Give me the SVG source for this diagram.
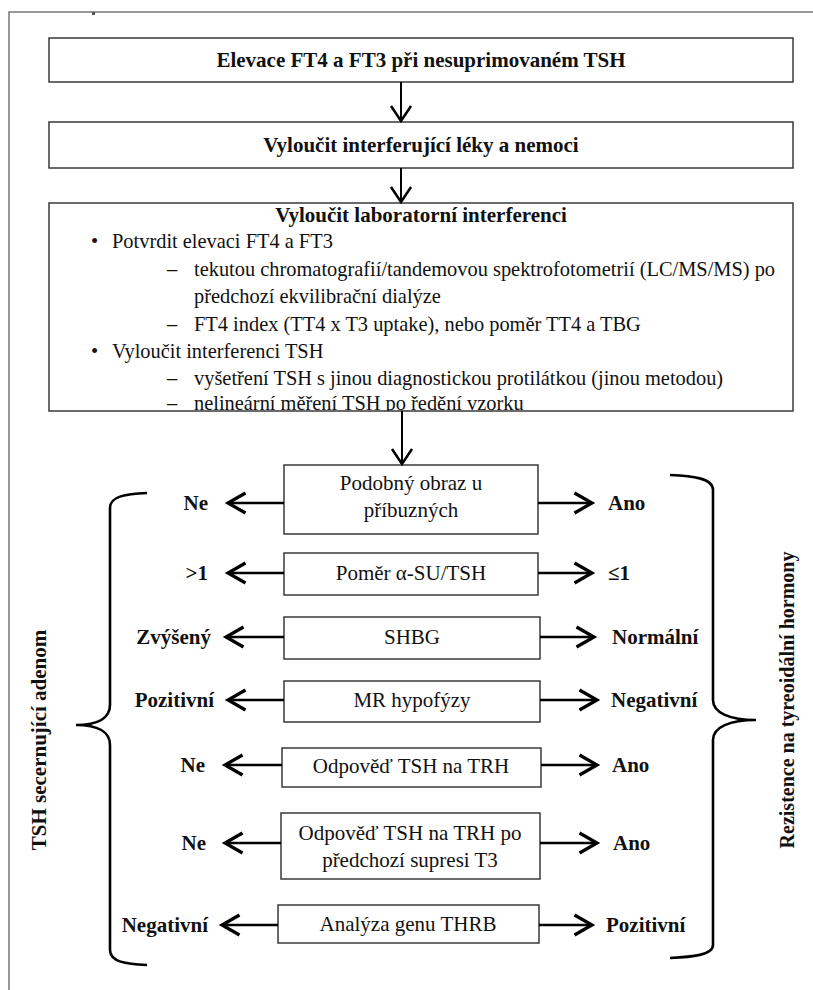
<svg xmlns="http://www.w3.org/2000/svg" width="813" height="990" viewBox="0 0 813 990">
<style>
.box{fill:#fff;stroke:#3a3a3a;stroke-width:1.5}
.t{font-family:"Liberation Serif","Times New Roman",serif;font-size:21px;fill:#111}
.b{font-weight:bold}
.l{font-family:"Liberation Serif","Times New Roman",serif;font-size:20.4px;fill:#111}
.c{text-anchor:middle}
.e{text-anchor:end}
.arr{stroke:#000;stroke-width:2.6;fill:none;marker-end:url(#ah)}
.varr{stroke:#000;stroke-width:2;fill:none;marker-end:url(#vh)}
.brace{stroke:#000;stroke-width:2.6;fill:none}
</style>
<defs>
<marker id="ah" markerUnits="userSpaceOnUse" markerWidth="30" markerHeight="30" viewBox="-16 -12 20 24" refX="0" refY="0" orient="auto" overflow="visible">
<path d="M-14,-8 L0,0 L-14,8" fill="none" stroke="#000" stroke-width="2.6" stroke-linejoin="miter"/>
</marker>
<marker id="vh" markerUnits="userSpaceOnUse" markerWidth="30" markerHeight="30" viewBox="-16 -12 20 24" refX="0" refY="0" orient="auto" overflow="visible">
<path d="M-12,-8 L0,0 L-12,8" fill="none" stroke="#000" stroke-width="2"/>
</marker>
<clipPath id="clip3"><rect x="49" y="203" width="744" height="208"/></clipPath>
</defs>
<rect width="813" height="990" fill="#fff"/>
<g id="frame">
<path d="M9,990 L9,12 L813,12" fill="none" stroke="#777" stroke-width="1.5"/>
<rect x="92" y="12" width="3" height="3" fill="#555"/>
</g>
<g id="n1">
<rect class="box" x="49" y="38" width="744" height="44"/>
<text class="t b c" x="421" y="67">Elevace FT4 a FT3 při nesuprimovaném TSH</text>
</g>
<g id="n2">
<rect class="box" x="49" y="122" width="744" height="46"/>
<text class="t b c" x="421" y="152">Vyloučit interferující léky a nemoci</text>
</g>
<g id="n3">
<rect class="box" x="49" y="203" width="744" height="208"/>
<text class="t b c" x="421" y="222">Vyloučit laboratorní interferenci</text>
<g clip-path="url(#clip3)">
<text class="l" x="91" y="248">•</text>
<text class="l" x="112" y="248">Potvrdit elevaci FT4 a FT3</text>
<text class="l" x="167" y="276">–</text>
<text class="l" x="194" y="276">tekutou chromatografií/tandemovou spektrofotometrií (LC/MS/MS) po</text>
<text class="l" x="194" y="303">předchozí ekvilibrační dialýze</text>
<text class="l" x="167" y="331">–</text>
<text class="l" x="194" y="331">FT4 index (TT4 x T3 uptake), nebo poměr TT4 a TBG</text>
<text class="l" x="91" y="358">•</text>
<text class="l" x="112" y="358">Vyloučit interferenci TSH</text>
<text class="l" x="167" y="385">–</text>
<text class="l" x="194" y="385">vyšetření TSH s jinou diagnostickou protilátkou (jinou metodou)</text>
<text class="l" x="167" y="410">–</text>
<text class="l" x="194" y="410">nelineární měření TSH po ředění vzorku</text>
</g>
</g>
<g id="n4">
<rect class="box" x="284" y="465" width="254" height="69"/>
<text class="t c" x="411" y="490">Podobný obraz u</text>
<text class="t c" x="411" y="517">příbuzných</text>
</g>
<g id="n5">
<rect class="box" x="284" y="553" width="254" height="42"/>
<text class="t c" x="411" y="580">Poměr α-SU/TSH</text>
</g>
<g id="n6">
<rect class="box" x="284" y="617" width="256" height="42"/>
<text class="t c" x="412" y="644">SHBG</text>
</g>
<g id="n7">
<rect class="box" x="284" y="681" width="256" height="41"/>
<text class="t c" x="412" y="707">MR hypofýzy</text>
</g>
<g id="n8">
<rect class="box" x="282" y="748" width="259" height="39"/>
<text class="t c" x="411" y="773">Odpověď TSH na TRH</text>
</g>
<g id="n9">
<rect class="box" x="281" y="813" width="259" height="66"/>
<text class="t c" x="410" y="840">Odpověď TSH na TRH po</text>
<text class="t c" x="410" y="867">předchozí supresi T3</text>
</g>
<g id="n10">
<rect class="box" x="278" y="905" width="261" height="38"/>
<text class="t c" x="408" y="931">Analýza genu THRB</text>
</g>
<g id="labels">
<text class="t b e" x="208" y="510">Ne</text>
<text class="t b" x="608" y="510">Ano</text>
<text class="t b e" x="208" y="580">&gt;1</text>
<text class="t b" x="608" y="580">≤1</text>
<text class="t b e" x="211" y="644">Zvýšený</text>
<text class="t b" x="612" y="644">Normální</text>
<text class="t b e" x="214" y="707">Pozitivní</text>
<text class="t b" x="611" y="707">Negativní</text>
<text class="t b e" x="205" y="772">Ne</text>
<text class="t b" x="612" y="772">Ano</text>
<text class="t b e" x="206" y="850">Ne</text>
<text class="t b" x="613" y="850">Ano</text>
<text class="t b e" x="208" y="932">Negativní</text>
<text class="t b" x="606" y="932">Pozitivní</text>
</g>
<g id="side-left">
<path class="brace" d="M147,493 C126,494 110,496 110,508 L110,705 C110,718 98,725 76,725 C98,725 110,732 110,745 L110,950 C110,962 126,964 147,965"/>
<text class="t b c" transform="translate(46,740) rotate(-90)">TSH secernující adenom</text>
</g>
<g id="side-right">
<path class="brace" d="M670,475 C692,476 713,478 713,490 L713,700 C713,713 730,720 756,720 C730,720 713,727 713,740 L713,945 C713,955 692,957 670,958"/>
<text class="t b c" style="font-size:20px" transform="translate(794,700) rotate(-90)">Rezistence na tyreoidální hormony</text>
</g>
<g id="connectors">
<line class="varr" x1="401" y1="82" x2="401" y2="121"/>
<line class="varr" x1="401" y1="168" x2="401" y2="202"/>
<line class="varr" x1="402" y1="411" x2="402" y2="464"/>
<line class="arr" x1="284" y1="503" x2="228" y2="503"/>
<line class="arr" x1="538" y1="503" x2="592" y2="503"/>
<line class="arr" x1="284" y1="573" x2="228" y2="573"/>
<line class="arr" x1="538" y1="573" x2="592" y2="573"/>
<line class="arr" x1="284" y1="637" x2="226" y2="637"/>
<line class="arr" x1="540" y1="637" x2="594" y2="637"/>
<line class="arr" x1="284" y1="700" x2="228" y2="700"/>
<line class="arr" x1="540" y1="700" x2="597" y2="700"/>
<line class="arr" x1="282" y1="765" x2="225" y2="765"/>
<line class="arr" x1="541" y1="765" x2="597" y2="765"/>
<line class="arr" x1="281" y1="843" x2="225" y2="843"/>
<line class="arr" x1="540" y1="843" x2="597" y2="843"/>
<line class="arr" x1="278" y1="925" x2="222" y2="925"/>
<line class="arr" x1="539" y1="925" x2="592" y2="925"/>
</g>
</svg>
